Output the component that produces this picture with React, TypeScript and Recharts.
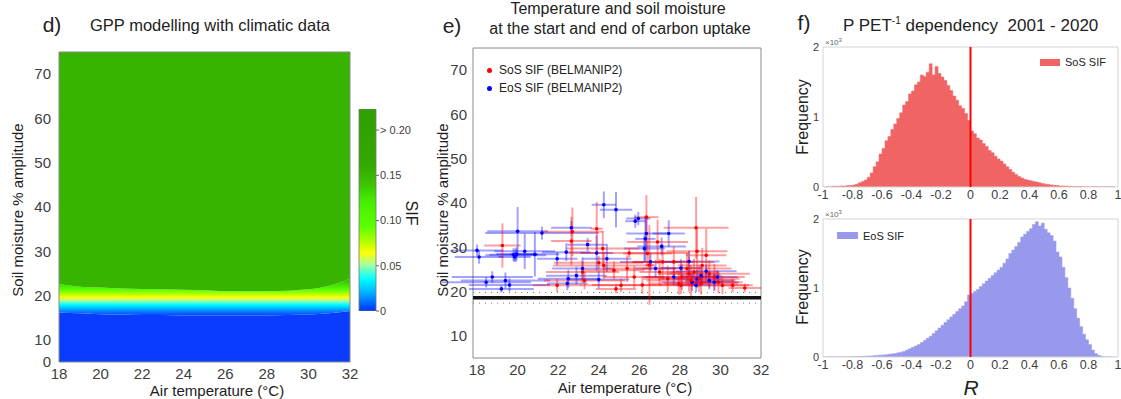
import React from 'react';
import {
  ComposedChart, Area, AreaChart, XAxis, YAxis, ReferenceArea, ReferenceLine,
  ScatterChart, Scatter, ErrorBar, BarChart, Bar,
} from 'recharts';

const FONT = '"Liberation Sans", Arial, Helvetica, sans-serif';

// d) modelled SIF over temperature / soil moisture (band edges per temperature)
const heatTemps = [18, 19, 20, 21, 22, 23, 24, 25, 26, 27, 28, 29, 30, 31, 32];
const blueTop = [16.2, 16.0, 15.8, 15.7, 15.6, 15.6, 15.5, 15.5, 15.5, 15.5, 15.5, 15.6, 15.7, 16.0, 16.5];
const bandTop = [22.6, 22.0, 21.8, 21.6, 21.5, 21.4, 21.3, 21.2, 21.0, 21.0, 21.0, 21.1, 21.4, 22.2, 23.8];
const smMax = 75;
const tempTicks = [18, 20, 22, 24, 26, 28, 30, 32];
const smTicksD = [5, 10, 20, 30, 40, 50, 60, 70];
const smTicksE = [10, 20, 30, 40, 50, 60, 70];

// colorbar
const sifTicks = [0, 0.05, 0.1, 0.15, 0.2];
const sifMax = 0.2233;

// e) SoS / EoS points
const sosT = [19.25, 22.65, 22.7, 21.95, 23.2, 23.3, 23.9, 24.2, 24.25, 24.75, 24.85, 25.1, 25.4, 25.75, 26.15, 26.35, 26.4, 26.9, 27.0, 27.15, 27.4, 27.7, 27.95, 28.1, 28.35, 28.45, 28.7, 28.8, 28.85, 28.95, 29.1, 29.3, 29.45, 29.7, 29.9, 30.1, 30.6, 31.2, 28.05, 28.55, 29.05, 24.0, 26.5, 25.5];
const sosSM = [30.4, 31.4, 33.5, 21.4, 24.4, 22.5, 34.2, 29.7, 25.9, 24.8, 20.6, 21.4, 25.2, 23.3, 21.5, 36.8, 28.6, 31.2, 24.4, 26.7, 22.9, 26.7, 21.8, 23.3, 25.2, 24.0, 24.4, 34.4, 29.1, 22.9, 25.9, 28.2, 24.0, 23.3, 22.1, 21.4, 21.4, 20.8, 21.4, 22.5, 21.8, 26.5, 26.0, 28.7];
const sosTErr = [0.9, 1.0, 1.5, 1.2, 1.8, 2.0, 0.3, 1.8, 2.5, 1.5, 1.0, 2.0, 1.2, 1.5, 2.5, 0.6, 1.2, 1.5, 1.0, 1.5, 1.2, 2.0, 1.5, 1.8, 2.2, 1.5, 1.2, 1.6, 1.5, 2.0, 1.2, 1.0, 2.0, 1.5, 1.2, 1.5, 0.8, 0.8, 1.0, 2.2, 1.8, 2.2, 0.2, 3.0];
const sosSMErr = [5, 5.5, 5.5, 1.5, 2.5, 2, 6, 4, 3, 2, 1, 1.5, 3, 2.5, 2, 5, 3, 5, 3, 4, 3, 3.5, 2.5, 3, 3.5, 4, 3, 7, 5, 3, 4, 6, 3, 3, 2.5, 2, 1.5, 1, 2, 3.5, 2.5, 1.5, 9, 1];

const eosT = [18.0, 18.1, 18.45, 18.75, 19.2, 19.4, 19.6, 19.8, 19.85, 19.9, 20.0, 19.95, 20.35, 20.85, 21.2, 21.95, 22.4, 22.45, 22.5, 22.65, 22.9, 23.2, 23.45, 23.9, 24.0, 24.25, 24.4, 24.85, 25.8, 25.95, 26.3, 26.35, 26.25, 26.55, 26.8, 27.45, 27.1, 27.7, 28.05, 28.45, 28.6, 28.8, 28.85, 29.05, 29.3, 29.45, 29.7, 29.85];
const eosSM = [29.3, 27.8, 22.1, 23.3, 20.6, 22.5, 21.5, 28.3, 27.8, 28.2, 33.6, 28.5, 29.1, 28.4, 33.2, 27.4, 28.9, 21.8, 22.9, 34.4, 23.6, 25.2, 30.6, 28.7, 22.7, 39.6, 27.4, 38.5, 35.9, 36.5, 31.9, 33.1, 29.7, 26.7, 25.2, 33.1, 30.2, 23.3, 25.3, 26.8, 22.1, 21.4, 22.9, 23.6, 24.6, 22.5, 22.1, 23.3];
const eosTErr = [1.3, 1.2, 2.2, 2.0, 1.6, 2.2, 2.0, 1.2, 0.8, 1.5, 1.5, 1.0, 1.5, 1.2, 2.8, 1.0, 1.2, 1.0, 1.5, 1.0, 1.5, 1.5, 1.0, 0.8, 1.5, 0.6, 1.2, 0.8, 0.5, 0.6, 0.5, 1.0, 1.0, 1.5, 1.0, 0.8, 1.2, 1.5, 1.0, 1.5, 1.5, 1.0, 1.2, 1.0, 1.5, 1.2, 1.2, 1.0];
const eosSMErr = [1.3, 1.5, 1.2, 1.3, 0.8, 1.8, 1.5, 1.5, 1, 1.5, 5.5, 1.5, 4, 5, 1.5, 1.5, 2, 1.5, 2, 1.5, 2, 2.5, 1.5, 4, 2, 3, 3, 4, 1.5, 1.5, 5, 4, 3, 2, 2, 3, 2, 2, 2, 2.5, 2, 1.5, 2, 2, 1.5, 2, 2, 1.5];

const thresholdSM = 18.6;
const thresholdLow = 17.4;
const thresholdHigh = 19.8;

// f) histograms of R, bins of 0.02 from -1, frequency in thousands
const binStart = -1;
const binWidth = 0.02;
const sosFreq = [
  0, 0.005, 0.005, 0.01, 0.01, 0.01, 0.015, 0.015, 0.02, 0.02,
  0.03, 0.04, 0.06, 0.08, 0.1, 0.14, 0.2, 0.29, 0.36, 0.47,
  0.55, 0.66, 0.72, 0.82, 0.9, 0.98, 1.06, 1.17, 1.22, 1.33,
  1.37, 1.46, 1.5, 1.6, 1.58, 1.64, 1.76, 1.6, 1.72, 1.62,
  1.57, 1.52, 1.45, 1.38, 1.3, 1.24, 1.16, 1.12, 1.05, 0.95,
  0.8, 0.76, 0.7, 0.67, 0.62, 0.58, 0.52, 0.49, 0.44, 0.4,
  0.37, 0.33, 0.29, 0.25, 0.21, 0.18, 0.15, 0.13, 0.11, 0.1,
  0.09, 0.08, 0.07, 0.06, 0.05, 0.04, 0.035, 0.03, 0.025, 0.02,
  0.016, 0.014, 0.012, 0.01, 0.008, 0.007, 0.006, 0.006, 0.005, 0.005,
  0.004, 0.004, 0.004, 0.004, 0.004, 0.003, 0.003, 0.002, 0.002, 0,
];
const eosFreq = [
  0, 0.002, 0.002, 0.003, 0.003, 0.003, 0.004, 0.004, 0.005, 0.005,
  0.006, 0.007, 0.008, 0.01, 0.012, 0.014, 0.016, 0.02, 0.022, 0.026,
  0.03, 0.034, 0.04, 0.045, 0.05, 0.06, 0.07, 0.08, 0.1, 0.12,
  0.14, 0.16, 0.18, 0.21, 0.24, 0.27, 0.3, 0.34, 0.38, 0.42,
  0.46, 0.5, 0.54, 0.58, 0.62, 0.66, 0.7, 0.74, 0.8, 0.9,
  0.92, 0.95, 0.98, 1.02, 1.06, 1.1, 1.14, 1.18, 1.22, 1.26,
  1.3, 1.36, 1.42, 1.5, 1.55, 1.6, 1.66, 1.74, 1.78, 1.82,
  1.86, 1.92, 1.96, 1.9, 1.94, 1.85, 1.8, 1.76, 1.68, 1.52,
  1.45, 1.3, 1.15, 1.0, 0.85, 0.7, 0.56, 0.44, 0.33, 0.25,
  0.18, 0.1, 0.05, 0.025, 0.01, 0.004, 0.003, 0.002, 0.001, 0,
];
const rTicks = [-1, -0.8, -0.6, -0.4, -0.2, 0, 0.2, 0.4, 0.6, 0.8, 1];
const freqTicks = [0, 1, 2];

const heatData = heatTemps.map((t, i) => ({
  t,
  blue: blueTop[i],
  band: bandTop[i] - blueTop[i],
  green: smMax - bandTop[i],
}));
const sosData = sosT.map((t, i) => ({ t, sm: sosSM[i], et: sosTErr[i], es: sosSMErr[i] }));
const eosData = eosT.map((t, i) => ({ t, sm: eosSM[i], et: eosTErr[i], es: eosSMErr[i] }));
const sosHist = sosFreq.map((f, i) => ({ r: binStart + i * binWidth, f }));
const eosHist = eosFreq.map((f, i) => ({ r: binStart + i * binWidth, f }));

const cmapStops: [number, string][] = [
  [0, '#2f9f00'], [0.28, '#33a800'], [0.37, '#3cc400'], [0.46, '#46ee00'],
  [0.58, '#5cff00'], [0.66, '#b4ff00'], [0.71, '#ffff00'], [0.77, '#a8ffa0'],
  [0.84, '#00ffff'], [0.91, '#00b0ff'], [1, '#0030ff'],
];
const bandStops: [number, string][] = [
  [0, '#36b400'], [0.14, '#42d800'], [0.28, '#50ff00'], [0.42, '#b4ff00'],
  [0.5, '#ffff00'], [0.6, '#a8ffa0'], [0.7, '#00ffff'], [0.82, '#00b0ff'], [1, '#0a3cff'],
];

const tickStyle = { fontSize: 15, fill: '#404040', fontFamily: FONT };

function Txt({ x, y, size, rot, children, anchor = 'center', style = {} }: any) {
  const tx = anchor === 'left' ? '0' : '-50%';
  return (
    <div
      style={{
        position: 'absolute', left: x, top: y, fontSize: size, fontFamily: FONT, color: '#222',
        whiteSpace: 'nowrap', lineHeight: 1,
        transform: `translate(${tx}, -50%)${rot ? ` rotate(${rot}deg)` : ''}`,
        ...style,
      }}
    >
      {children}
    </div>
  );
}

function HeatPanel() {
  return (
    <div style={{ position: 'absolute', left: 0, top: 0 }}>
      <ComposedChart width={360} height={399} data={heatData} margin={{ top: 52, right: 10, bottom: 17, left: 19 }}>
        <defs>
          <linearGradient id="bandGrad" x1="0" y1="0" x2="0" y2="1">
            {bandStops.map(([o, c]) => <stop key={o} offset={o} stopColor={c} />)}
          </linearGradient>
        </defs>
        <XAxis dataKey="t" type="number" domain={[18, 32]} ticks={tempTicks} interval={0}
          tick={tickStyle} tickSize={0} tickMargin={6} axisLine={false} height={20} />
        <YAxis type="number" domain={[5, smMax]} ticks={smTicksD} allowDataOverflow interval={0}
          tickFormatter={(v: number) => (v === 5 ? '0' : String(v))}
          tick={tickStyle} tickSize={0} tickMargin={8} axisLine={false} width={40} />
        <Area dataKey="blue" stackId="h" type="monotone" fill="#0a3cff" fillOpacity={1} stroke="none" dot={false} activeDot={false} isAnimationActive={false} />
        <Area dataKey="band" stackId="h" type="monotone" fill="url(#bandGrad)" fillOpacity={1} stroke="none" dot={false} activeDot={false} isAnimationActive={false} />
        <Area dataKey="green" stackId="h" type="monotone" fill="#36b400" fillOpacity={1} stroke="none" dot={false} activeDot={false} isAnimationActive={false} />
        <ReferenceArea x1={18} x2={32} y1={5} y2={smMax} fill="none" stroke="#8a8a8a" strokeWidth={1} />
      </ComposedChart>
    </div>
  );
}

function ColorBar() {
  return (
    <div style={{ position: 'absolute', left: 350, top: 100 }}>
      <BarChart width={70} height={230} data={[{ k: 'SIF', v: sifMax }]} barCategoryGap={0}
        margin={{ top: 9, right: 0, bottom: 19, left: 9 }}>
        <defs>
          <linearGradient id="cbar" x1="0" y1="0" x2="0" y2="1">
            {cmapStops.map(([o, c]) => <stop key={o} offset={o} stopColor={c} />)}
          </linearGradient>
        </defs>
        <XAxis dataKey="k" hide />
        <YAxis orientation="right" type="number" domain={[0, sifMax]} ticks={sifTicks} allowDataOverflow interval={0}
          tickFormatter={(v: number) => (v === 0 ? '0' : v === 0.2 ? '>\u00a00.20' : v.toFixed(2))}
          tick={{ fontSize: 11, fill: '#404040', fontFamily: FONT }} tickSize={3} tickMargin={1}
          axisLine={false} tickLine={{ stroke: '#666' }} width={44} />
        <Bar dataKey="v" fill="url(#cbar)" stroke="#777" strokeWidth={0.8} isAnimationActive={false} />
      </BarChart>
    </div>
  );
}

const dot = (color: string) => (p: any) => <circle cx={p.cx} cy={p.cy} r={1.8} fill={color} />;

function ScatterPanel() {
  return (
    <div style={{ position: 'absolute', left: 400, top: 0 }}>
      <ScatterChart width={370} height={399} margin={{ top: 48, right: 9, bottom: 21, left: 33 }}>
        <XAxis dataKey="t" type="number" domain={[17.8, 32]} ticks={tempTicks} allowDataOverflow interval={0}
          tick={tickStyle} tickSize={0} tickMargin={6} axisLine={false} height={20} />
        <YAxis dataKey="sm" type="number" domain={[5, smMax]} ticks={smTicksE} allowDataOverflow interval={0}
          tick={tickStyle} tickSize={0} tickMargin={6} axisLine={false} width={40} />
        <ReferenceLine y={thresholdHigh} stroke="#777" strokeDasharray="1 5" strokeWidth={1} />
        <ReferenceLine y={thresholdLow} stroke="#777" strokeDasharray="1 5" strokeWidth={1} />
        <ReferenceLine y={thresholdSM} stroke="#111" strokeWidth={3.5} />
        <Scatter data={eosData} fill="#0000ff" shape={dot('#0000ff')} isAnimationActive={false}>
          <ErrorBar dataKey="et" direction="x" width={0} stroke="rgba(0,0,255,0.36)" strokeWidth={2} />
          <ErrorBar dataKey="es" direction="y" width={0} stroke="rgba(0,0,255,0.36)" strokeWidth={2} />
        </Scatter>
        <Scatter data={sosData} fill="#ff0000" shape={dot('#ff0000')} isAnimationActive={false}>
          <ErrorBar dataKey="et" direction="x" width={0} stroke="rgba(255,0,0,0.38)" strokeWidth={2} />
          <ErrorBar dataKey="es" direction="y" width={0} stroke="rgba(255,0,0,0.38)" strokeWidth={2} />
        </Scatter>
        <ReferenceArea x1={17.8} x2={32} y1={5} y2={smMax} fill="none" stroke="#8a8a8a" strokeWidth={1} />
      </ScatterChart>
    </div>
  );
}

function HistPanel({ data, color, top, height, margin }: any) {
  return (
    <div style={{ position: 'absolute', left: 780, top }}>
      <AreaChart width={341} height={height} data={data} margin={margin}>
        <XAxis dataKey="r" type="number" domain={[-1, 1]} ticks={rTicks} interval={0}
          tickFormatter={(v: number) => String(Math.round(v * 10) / 10)}
          tick={{ fontSize: 12.5, fill: '#404040', fontFamily: FONT }} tickSize={0} tickMargin={3}
          axisLine={false} height={20} />
        <YAxis type="number" domain={[0, 2]} ticks={freqTicks} allowDataOverflow interval={0}
          tick={{ fontSize: 11, fill: '#404040', fontFamily: FONT }} tickSize={0} tickMargin={4}
          axisLine={false} width={25} />
        <Area dataKey="f" type="stepAfter" fill={color} fillOpacity={1} stroke={color} strokeWidth={0.5}
          dot={false} activeDot={false} isAnimationActive={false} />
        <ReferenceLine x={0} stroke="#ff0000" strokeWidth={2} />
        <ReferenceArea x1={-1} x2={1} y1={0} y2={2} fill="none" stroke="#d4d4d4" strokeWidth={1} />
      </AreaChart>
    </div>
  );
}

export default function App() {
  return (
    <div style={{ position: 'absolute', left: 0, top: 0, width: 1121, height: 399, background: '#fff', overflow: 'hidden', fontFamily: FONT }}>
      <HeatPanel />
      <ColorBar />
      <ScatterPanel />
      <HistPanel data={sosHist} color="#f06464" top={0} height={210} margin={{ top: 47, right: 3, bottom: 3, left: 18 }} />
      <HistPanel data={eosHist} color="#9898ec" top={200} height={199} margin={{ top: 19, right: 3, bottom: 22, left: 18 }} />

      {/* panel d text */}
      <Txt x={52} y={24} size={21}>d)</Txt>
      <Txt x={210} y={25} size={16.5}>GPP modelling with climatic data</Txt>
      <Txt x={17} y={210} size={15} rot={-90}>Soil moisture % amplitude</Txt>
      <Txt x={217} y={390} size={15}>Air temperature (°C)</Txt>
      <Txt x={411} y={213} size={16} rot={90}>SIF</Txt>

      {/* panel e text */}
      <Txt x={452} y={25} size={21}>e)</Txt>
      <Txt x={618} y={9} size={16}>Temperature and soil moisture</Txt>
      <Txt x={620} y={29} size={16}>at the start and end of carbon uptake</Txt>
      <Txt x={442} y={210} size={15} rot={-90}>Soil moisture % amplitude</Txt>
      <Txt x={625} y={387} size={15}>Air temperature (°C)</Txt>
      <div style={{ position: 'absolute', left: 487, top: 68, width: 5, height: 5, borderRadius: 3, background: '#ff0000' }} />
      <Txt x={499} y={70} size={12} anchor="left">SoS SIF (BELMANIP2)</Txt>
      <div style={{ position: 'absolute', left: 487, top: 86, width: 5, height: 5, borderRadius: 3, background: '#0000ff' }} />
      <Txt x={499} y={88} size={12} anchor="left">EoS SIF (BELMANIP2)</Txt>

      {/* panel f text */}
      <Txt x={804} y={22} size={21}>f)</Txt>
      <Txt x={843} y={25} size={17} anchor="left">
        P PET<sup style={{ fontSize: 10 }}>-1</sup> dependency&nbsp; 2001 - 2020
      </Txt>
      <Txt x={803} y={117} size={16} rot={-90}>Frequency</Txt>
      <Txt x={803} y={287} size={16} rot={-90}>Frequency</Txt>
      <Txt x={971} y={387} size={21} style={{ fontStyle: 'italic' }}>R</Txt>
      <Txt x={825} y={42} size={8} anchor="left" style={{ color: '#666' }}>×10<sup style={{ fontSize: 6 }}>3</sup></Txt>
      <Txt x={825} y={214} size={8} anchor="left" style={{ color: '#666' }}>×10<sup style={{ fontSize: 6 }}>3</sup></Txt>
      <div style={{ position: 'absolute', left: 1040, top: 59, width: 20, height: 7, background: '#f06464' }} />
      <Txt x={1065} y={62} size={11} anchor="left">SoS SIF</Txt>
      <div style={{ position: 'absolute', left: 837, top: 232, width: 21, height: 7, background: '#9898ec' }} />
      <Txt x={863} y={236} size={11} anchor="left">EoS SIF</Txt>
    </div>
  );
}
